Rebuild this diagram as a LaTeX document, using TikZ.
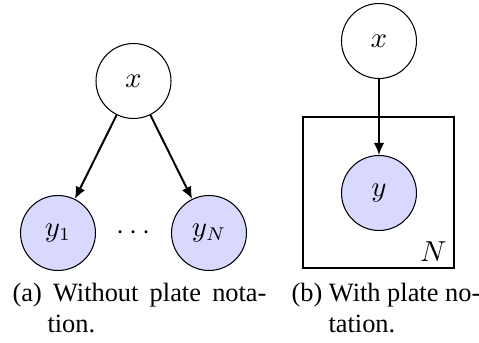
\documentclass[tikz,border=0pt]{standalone}
\usepackage{fontspec}
\setmainfont{Liberation Serif}
\usetikzlibrary{arrows.meta}
\definecolor{obsfill}{RGB}{217,217,255}
\begin{document}
\begin{tikzpicture}[x=0.3788pt,y=-0.3788pt,
  latent/.style={circle,draw,line width=0.4pt,minimum size=28.4pt,inner sep=0pt,font=\fontsize{10.5}{12}\selectfont},
  observed/.style={latent,fill=obsfill},
  edge/.style={-{Latex[length=4.6pt,width=4pt]},line width=0.75pt},
  plate/.style={draw,line width=0.4pt},
  captxt/.style={inner sep=0pt,font=\fontsize{10}{12}\selectfont}]
\useasboundingbox (0,0) rectangle (479,343);
% (a)
\node[latent] (xa) at (133.5,81) {$x$};
\node[observed] (y1) at (58,233) {$y_1$};
\node[observed] (yN) at (209,233) {$y_N$};
\node[inner sep=0pt,font=\fontsize{10.5}{12}\selectfont] (dots) at (133.5,233) {$\cdots$};
\draw[edge] (xa) -- (y1);
\draw[edge] (xa) -- (yN);
% (b)
\node[latent] (xb) at (379,41) {$x$};
\node[observed] (yb) at (379,193) {$y$};
\coordinate (pnw) at (303,117);
\coordinate (pse) at (454,268);
\draw[plate] (pnw) rectangle (pse);
\node[anchor=base east,inner sep=0pt,font=\fontsize{10.5}{12}\selectfont] (Nlab) at (447,262) {$N$};
\draw[edge] (xb) -- (yb);
% captions
\node[captxt,anchor=base west] (ca1) at (12,302) {\makebox[96.2pt][s]{(a) Without plate nota-}};
\node[captxt,anchor=base west] (ca2) at (47,333) {tion.};
\node[captxt,anchor=base west] (cb1) at (291,302) {(b) With plate no-};
\node[captxt,anchor=base west] (cb2) at (328,333) {tation.};
\end{tikzpicture}
\end{document}
